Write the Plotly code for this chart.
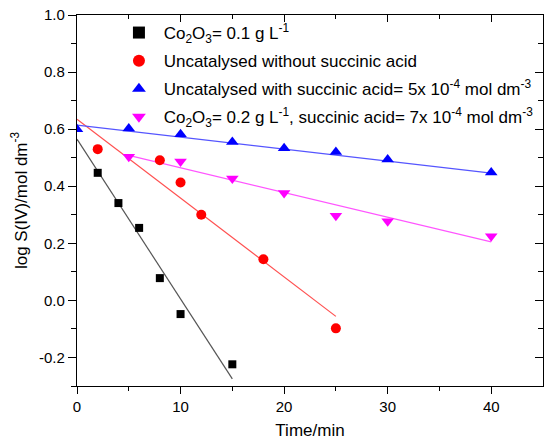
import plotly.graph_objects as go

# ---- data ----
x_co01 = [2, 4, 6, 8, 10, 15]
y_co01 = [0.447, 0.341, 0.254, 0.078, -0.048, -0.224]
fit_co01_x = [0, 15]
fit_co01_y = [0.565, -0.275]

x_unc = [2, 8, 10, 12, 18, 25]
y_unc = [0.530, 0.491, 0.413, 0.300, 0.144, -0.098]
fit_unc_x = [0, 25]
fit_unc_y = [0.635, -0.056]

x_succ = [0, 5, 10, 15, 20, 25, 30, 40]
y_succ = [0.600, 0.602, 0.582, 0.555, 0.533, 0.520, 0.494, 0.448]
fit_succ_x = [0, 40]
fit_succ_y = [0.614, 0.446]

x_co02 = [5, 10, 15, 20, 25, 30, 40]
y_co02 = [0.503, 0.487, 0.427, 0.376, 0.297, 0.277, 0.225]
fit_co02_x = [5, 40]
fit_co02_y = [0.508, 0.205]

x_ticks = [0, 10, 20, 30, 40]
x_minor = [5, 15, 25, 35]
y_ticks = [-0.2, 0.0, 0.2, 0.4, 0.6, 0.8, 1.0]
y_ticktext = ["-0.2", "0.0", "0.2", "0.4", "0.6", "0.8", "1.0"]
y_minor = [-0.1, 0.1, 0.3, 0.5, 0.7, 0.9]

names = [
    "&nbsp;Co<sub>2</sub>O<sub>3</sub>= 0.1 g L<sup>-1</sup>",
    "&nbsp;Uncatalysed without succinic acid",
    "&nbsp;Uncatalysed with succinic acid= 5x 10<sup>-4</sup> mol dm<sup>-3</sup>",
    "&nbsp;Co<sub>2</sub>O<sub>3</sub>= 0.2 g L<sup>-1</sup>, succinic acid= 7x 10<sup>-4</sup> mol dm<sup>-3</sup>",
]

FONT = "Liberation Sans, Arial, sans-serif"

fig = go.Figure()

# fit lines
for fx, fy, col in [
    (fit_co01_x, fit_co01_y, "#555555"),
    (fit_unc_x, fit_unc_y, "#ff5050"),
    (fit_succ_x, fit_succ_y, "#5555ff"),
    (fit_co02_x, fit_co02_y, "#ff55ff"),
]:
    fig.add_trace(go.Scatter(x=fx, y=fy, mode="lines", line=dict(color=col, width=1.2),
                             showlegend=False, hoverinfo="skip"))

# markers
fig.add_trace(go.Scatter(x=x_co01, y=y_co01, mode="markers", name=names[0], legendgroup="a",
                         marker=dict(symbol="square", size=8, color="black")))
fig.add_trace(go.Scatter(x=x_unc, y=y_unc, mode="markers", name=names[1], legendgroup="b",
                         marker=dict(symbol="circle", size=10, color="#ff0000")))
fig.add_trace(go.Scatter(x=x_succ, y=y_succ, mode="markers", name=names[2], legendgroup="c",
                         marker=dict(symbol="triangle-up", size=11, color="#0000ff")))
fig.add_trace(go.Scatter(x=x_co02, y=y_co02, mode="markers", name=names[3], legendgroup="d",
                         marker=dict(symbol="triangle-down", size=11, color="#ff00ff")))

# helper invisible trace for top/right axes
fig.add_trace(go.Scatter(x=[0], y=[0], xaxis="x2", yaxis="y2", mode="markers",
                         marker=dict(opacity=0), showlegend=False, hoverinfo="skip"))

axis_common = dict(showline=True, linecolor="black", linewidth=1.3, showgrid=False,
                   zeroline=False, tickcolor="black", tickwidth=1.2, automargin=False)

fig.update_layout(
    width=545, height=440,
    margin=dict(l=77, r=2, t=15, b=54, autoexpand=False),
    paper_bgcolor="white", plot_bgcolor="white",
    font=dict(family=FONT, color="black"),
    xaxis=dict(range=[0, 45], tickmode="array", tickvals=x_ticks,
               ticks="outside", ticklen=7,
               minor=dict(tickvals=x_minor, ticks="outside", ticklen=4,
                          tickcolor="black", tickwidth=1.2),
               tickfont=dict(size=15),
               title=dict(text="Time/min", font=dict(size=17), standoff=10),
               **axis_common),
    yaxis=dict(range=[-0.3, 1.0], tickmode="array",
               tickvals=y_ticks, ticktext=y_ticktext,
               ticks="outside", ticklen=8,
               minor=dict(tickvals=[-0.3] + y_minor, ticks="outside",
                          ticklen=5, tickcolor="black", tickwidth=1.2),
               tickfont=dict(size=15),
               title=dict(text="log S(IV)/mol dm<sup>-3</sup>", font=dict(size=17), standoff=7),
               **axis_common),
    xaxis2=dict(range=[0, 45], overlaying="x", side="top", anchor="y",
                tickmode="array", tickvals=x_ticks, ticks="inside", ticklen=7,
                minor=dict(tickvals=x_minor, ticks="inside", ticklen=4,
                           tickcolor="black", tickwidth=1.2),
                showticklabels=False, **axis_common),
    yaxis2=dict(range=[-0.3, 1.0], overlaying="y", side="right", anchor="x",
                tickmode="array", tickvals=y_ticks, ticks="inside", ticklen=8,
                minor=dict(tickvals=y_minor, ticks="inside",
                           ticklen=5, tickcolor="black", tickwidth=1.2),
                showticklabels=False, **axis_common),
    legend=dict(x=0.09, y=1.0, xanchor="left", yanchor="top",
                bgcolor="rgba(0,0,0,0)", font=dict(size=17, family=FONT),
                itemsizing="constant", itemwidth=30, tracegroupgap=3,
                traceorder="grouped"),
    showlegend=True,
)

fig.write_html("out.html", config={"displayModeBar": False},
               post_script="document.body.style.margin='0';document.body.style.overflow='hidden';")
